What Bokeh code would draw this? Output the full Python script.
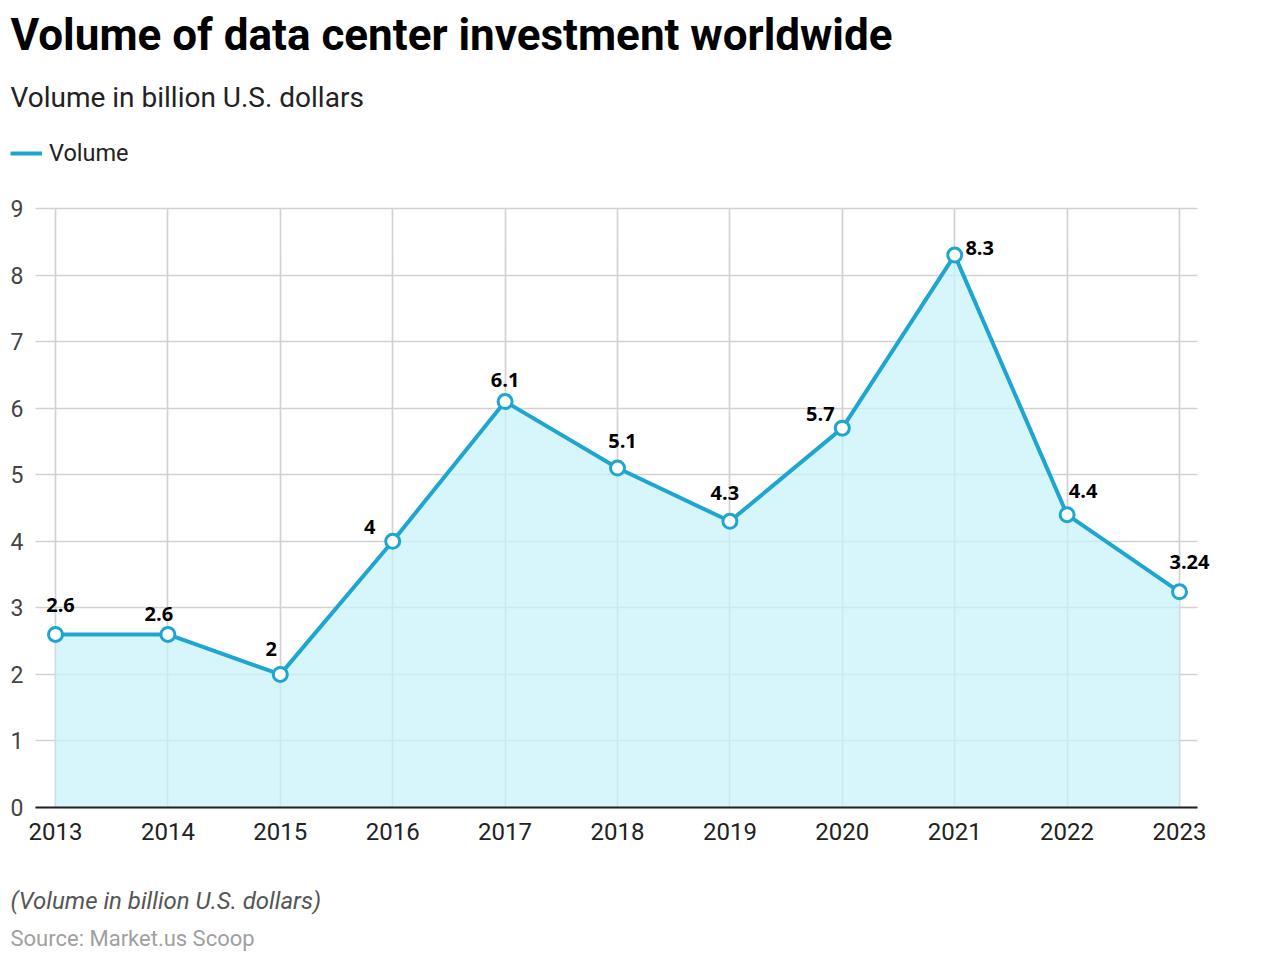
from bokeh.plotting import figure
from bokeh.models import (ColumnDataSource, Label, LabelSet, Legend, LegendItem,
                          Range1d, FixedTicker)
from bokeh.core.properties import value
from bokeh.embed import file_html
from bokeh.resources import INLINE

# ---- data ----
years = [2013, 2014, 2015, 2016, 2017, 2018, 2019, 2020, 2021, 2022, 2023]
volume = [2.6, 2.6, 2.0, 4.0, 6.1, 5.1, 4.3, 5.7, 8.3, 4.4, 3.24]
value_labels = ["2.6", "2.6", "2", "4", "6.1", "5.1", "4.3", "5.7", "8.3", "4.4", "3.24"]
y_ticks = [0, 1, 2, 3, 4, 5, 6, 7, 8, 9]

# label placement (screen px), kept apart from data
label_dx = [5, -9, -9, -23, 0, 5, -5, -22, 25, 16, 10]
label_dy = [22, 13, 18, 7, 15, 20, 21, 7, 0, 17, 23]

BLUE = "#1fa6d0"
FONT = "Roboto"
W, H = 1264, 954

# frame covers the whole canvas; chart area is placed through the ranges
PX_YEAR = 112.4
X_START = 2013 - 55 / PX_YEAR
X_END = X_START + W / PX_YEAR
PX_UNIT = 599 / 9
Y_START = -(H - 807) / PX_UNIT
Y_END = Y_START + H / PX_UNIT
X0, X1 = 2013 - 20 / PX_YEAR, 2023 + 18 / PX_YEAR   # visible chart extent

src = ColumnDataSource(dict(x=years, y=volume, zero=[0] * len(years),
                            lab=value_labels, dx=label_dx, dy=label_dy))

p = figure(width=W, height=H, output_backend="svg", toolbar_location=None,
           x_range=Range1d(X_START, X_END), y_range=Range1d(Y_START, Y_END),
           min_border=0, min_border_left=0, min_border_right=0,
           min_border_top=0, min_border_bottom=0)
p.outline_line_color = None

# grids limited to the chart area
p.xgrid.ticker = FixedTicker(ticks=years)
p.ygrid.ticker = FixedTicker(ticks=y_ticks)
p.xgrid.cross_bounds = (0, 9)
p.ygrid.cross_bounds = (X0, X1)
for g in (p.xgrid, p.ygrid):
    g.grid_line_color = "#d2d2d2"
    g.grid_line_width = 1.7

# axes pinned at the chart area's edges
p.xaxis.fixed_location = 0
p.yaxis.fixed_location = X0
p.xaxis.ticker = FixedTicker(ticks=years)
p.yaxis.ticker = FixedTicker(ticks=y_ticks)
p.xaxis.bounds = (X0, X1)
p.yaxis.bounds = (0, 9)
for ax in (p.xaxis, p.yaxis):
    ax.major_tick_line_color = None
    ax.minor_tick_line_color = None
    ax.major_tick_out = 0
    ax.major_tick_in = 0
    ax.major_label_text_font = FONT
p.xaxis.major_label_text_font_size = "24px"
p.yaxis.major_label_text_font_size = "23px"
p.yaxis.axis_line_color = None
p.xaxis.axis_line_color = "#222222"
p.xaxis.axis_line_width = 2
p.xaxis.major_label_text_color = "#222222"
p.yaxis.major_label_text_color = "#444444"
p.xaxis.major_label_standoff = 15
p.yaxis.major_label_standoff = 12

p.varea(x="x", y1="zero", y2="y", source=src, fill_color="#c6f3fa", fill_alpha=0.72)
line = p.line(x="x", y="y", source=src, line_color=BLUE, line_width=4)
p.scatter(x="x", y="y", source=src, size=14, fill_color="white",
          line_color=BLUE, line_width=3)

labels = LabelSet(x="x", y="y", text="lab", source=src, x_offset="dx", y_offset="dy",
                  text_align="center", text_baseline="alphabetic",
                  text_font=value("Open Sans"), text_font_style="bold",
                  text_font_size=value("20px"), text_color="#000000")
p.add_layout(labels)

# legend
legend = Legend(items=[LegendItem(label="Volume", renderers=[line])],
                location=(10, H - 154 - 13), glyph_width=32, glyph_height=26,
                label_standoff=7, padding=0, margin=0, spacing=0,
                border_line_alpha=0, background_fill_alpha=0,
                label_text_font=FONT, label_text_font_size="23.5px",
                label_text_color="#222222")
p.add_layout(legend, "center")


def add_text(text, x, page_baseline, size_px, color, style="normal"):
    # Label's alphabetic baseline lands ~0.37em low; compensate
    y = H - page_baseline + 0.37 * size_px
    p.add_layout(Label(x=x, y=y, x_units="screen", y_units="screen", text=text,
                       text_font=FONT, text_font_size=f"{size_px}px", text_color=color,
                       text_font_style=style, text_baseline="alphabetic",
                       text_align="left"))


add_text("Volume of data center investment worldwide", 10, 51, 44, "#000000", "bold")
add_text("Volume in billion U.S. dollars", 10, 107, 28, "#222222")
add_text("(Volume in billion U.S. dollars)", 10, 909, 24, "#555555", "italic")
add_text("Source: Market.us Scoop", 10, 946, 22, "#a0a0a0")

open("out.html", "w").write(file_html(p, INLINE))
